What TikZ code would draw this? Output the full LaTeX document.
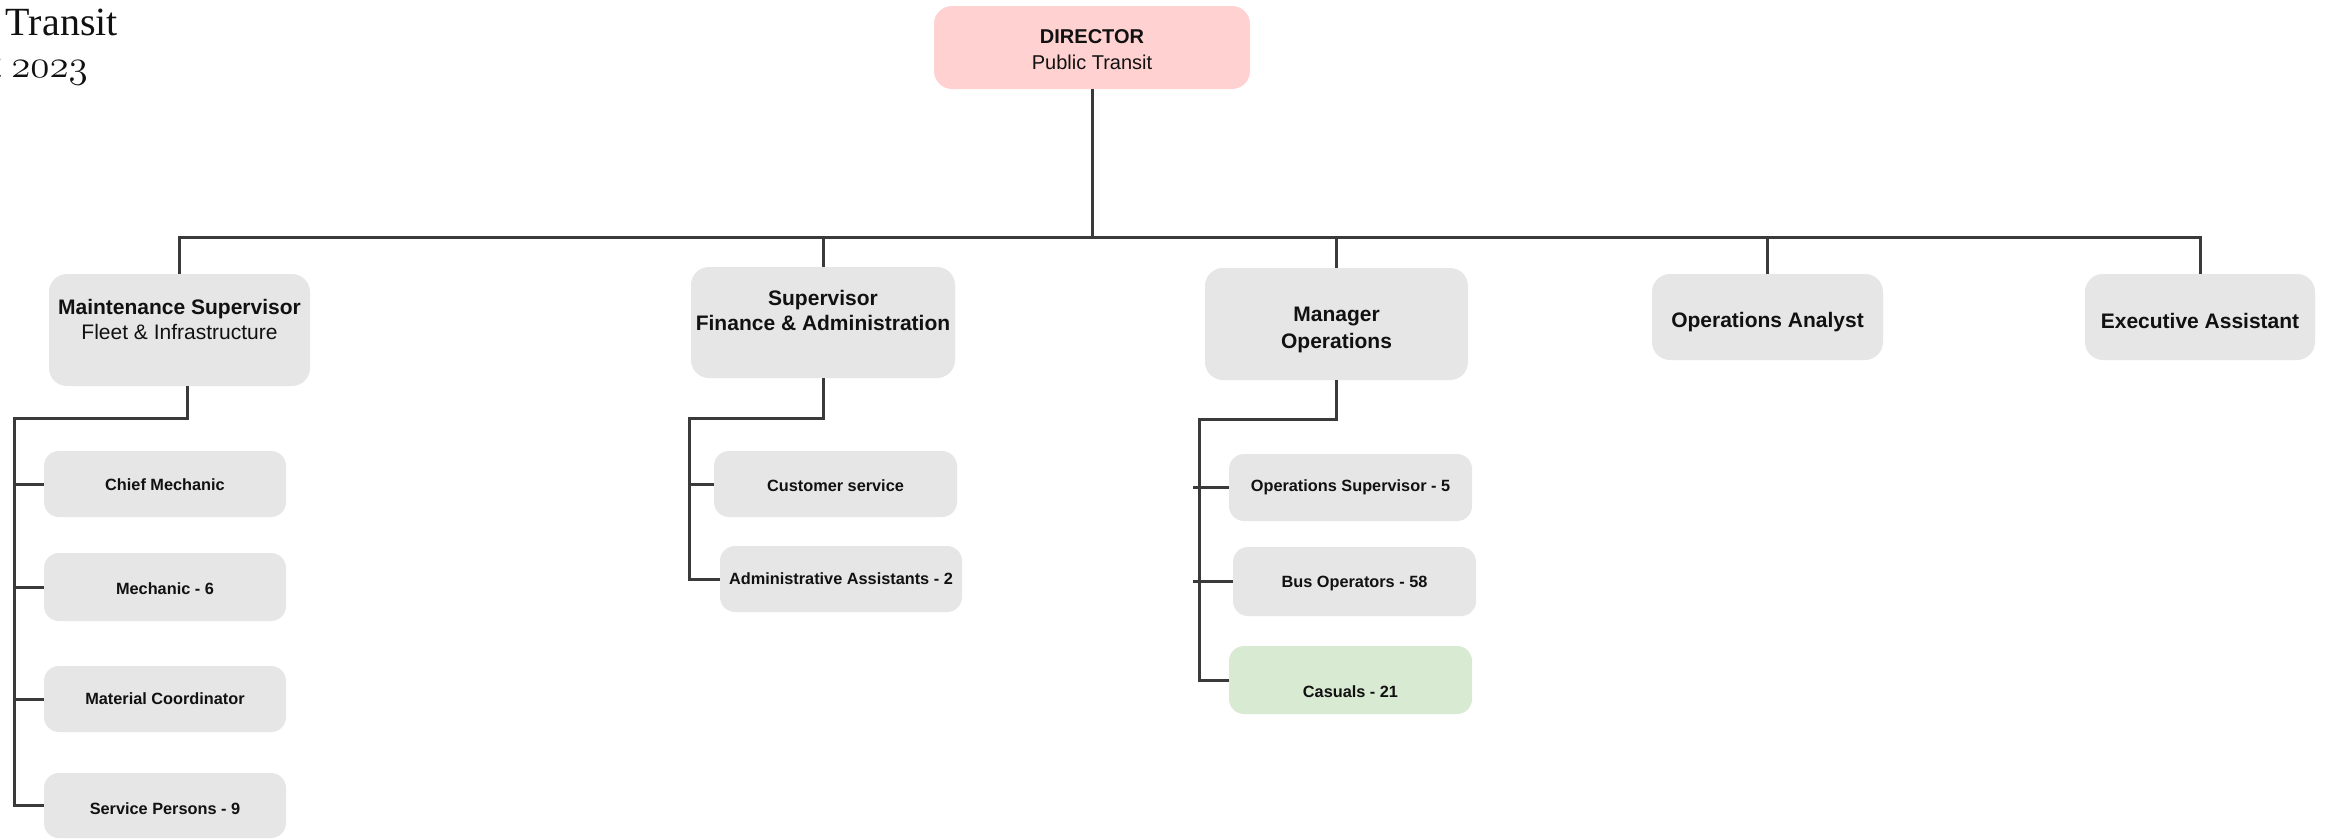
\documentclass[tikz,border=0pt]{standalone}
\usepackage{fontspec}
\usetikzlibrary{calc}
\newfontfamily\uifont{Liberation Sans}
\newfontfamily\headfont{Liberation Serif}
% old-style figures taken from the Latin Modern math italic font, enlarged
\newcommand\oldfig[1]{\scalebox{1.57}{\fontsize{24.88}{28}\usefont{OML}{lmm}{m}{it}#1}}
\definecolor{cardgray}{HTML}{E6E6E6}
\definecolor{dirpink}{HTML}{FFD1D1}
\definecolor{casgreen}{HTML}{D9EAD3}
\definecolor{wirecol}{HTML}{3A3A3A}
\definecolor{inkcol}{HTML}{111111}
\begin{document}
\begin{tikzpicture}[x=1pt,y=-1pt,
  wire/.style={draw=wirecol, line width=3pt},
  card/.style={fill=cardgray, draw=none, rounded corners=18pt, inner sep=0pt},
  minor/.style={card, rounded corners=15pt, minimum width=242pt, minimum height=66pt},
  lbl/.style={inner sep=0pt, align=center, text=inkcol},
  big/.style={lbl, font=\uifont\fontsize{21}{25}\selectfont},
  small/.style={lbl, font=\uifont\bfseries\fontsize{16.3}{20}\selectfont},
  title/.style={inner sep=0pt, anchor=base east, text=inkcol, font=\headfont\fontsize{40}{44}\selectfont}]

\useasboundingbox (0,0) rectangle (2325,839);
\clip (0,0) rectangle (2325,839);
\fill[white] (0,0) rectangle (2325,839);

% heading in the top left corner
\node[title] (head1) at (118,35) {Public Transit};
\node[title] (head2) at (88,77) {August \oldfig{2023}};

% top of the chart
\node[card, fill=dirpink, minimum width=316pt, minimum height=83pt,
  label={[lbl, yshift=-2.5pt, font=\uifont\fontsize{20}{26}\selectfont]center:{{\bfseries DIRECTOR}\\Public Transit}}]
  (dir) at (1092,47.5) {};

% second level
\node[card, minimum width=261pt, minimum height=112pt,
  label={[big, yshift=10.5pt]center:{{\bfseries Maintenance Supervisor}\\Fleet \& Infrastructure}}]
  (maint) at (179.5,330) {};
\node[card, minimum width=264pt, minimum height=111pt,
  label={[big, yshift=12pt]center:{\bfseries Supervisor\\\bfseries Finance \& Administration}}]
  (fin) at (823,322.5) {};
\node[card, minimum width=263pt, minimum height=112pt,
  label={[big, yshift=-5.5pt, font=\uifont\fontsize{21}{27}\selectfont]center:{\bfseries Manager\\\bfseries Operations}}]
  (mgr) at (1336.5,324) {};
\node[card, minimum width=231pt, minimum height=86pt,
  label={[big, yshift=-5pt]center:{\bfseries Operations Analyst}}]
  (ana) at (1767.5,317) {};
\node[card, minimum width=230pt, minimum height=86pt,
  label={[big, yshift=-4pt]center:{\bfseries Executive Assistant}}]
  (exe) at (2200,317) {};

% fleet and infrastructure staff
\node[minor, label={[small, yshift=-1pt]center:Chief Mechanic}] (chief) at (165,484) {};
\node[minor, minimum height=68pt, label={[small, yshift=-2pt]center:Mechanic - 6}] (mech) at (165,587) {};
\node[minor, label={[small]center:Material Coordinator}] (matl) at (165,699) {};
\node[minor, minimum height=65pt, label={[small, yshift=-3.5pt]center:Service Persons - 9}] (serv) at (165,805.5) {};

% finance and administration staff
\node[minor, minimum width=243pt, label={[small, yshift=-2pt]center:Customer service}] (cust) at (835.5,484) {};
\node[minor, label={[small]center:Administrative Assistants - 2}] (adm) at (841,579) {};

% operations staff
\node[minor, minimum width=243pt, minimum height=67pt, label={[small]center:Operations Supervisor - 5}] (opsv) at (1350.5,487.5) {};
\node[minor, minimum width=243pt, minimum height=69pt, label={[small, yshift=-1.5pt]center:Bus Operators - 58}] (bus) at (1354.5,581.5) {};
\node[minor, fill=casgreen, minimum width=243pt, minimum height=68pt, label={[small, yshift=-12pt]center:Casuals - 21}] (cas) at (1350.5,680) {};

% reporting lines: director to second level
\coordinate (bar) at (0,237);
\draw[wire] (dir.south) -- (dir.south |- bar);
\draw[wire] (maint.north) -- (maint.north |- bar) -- (exe.north |- bar) -- (exe.north);
\foreach \n in {fin,mgr,ana} \draw[wire] (\n.north |- bar) -- (\n.north);

% maintenance branch
\coordinate (mtop) at (14,418);
\draw[wire] ([xshift=7.5pt]maint.south) |- (mtop) -- (mtop |- serv.west) -- (serv.west);
\foreach \n in {chief,mech,matl} \draw[wire] (mtop |- \n.west) -- (\n.west);

% finance branch
\coordinate (ftop) at (689,418);
\draw[wire] (fin.south) |- (ftop) -- (ftop |- adm.west) -- (adm.west);
\draw[wire] (ftop |- cust.west) -- (cust.west);

% operations branch
\coordinate (otop) at (1199,419);
\draw[wire] (mgr.south) |- (otop) -- (otop |- cas.west) -- (cas.west);
\foreach \n in {opsv,bus} \draw[wire] ($(otop |- \n.west)+(-6,0)$) -- (\n.west);
\end{tikzpicture}
\end{document}
